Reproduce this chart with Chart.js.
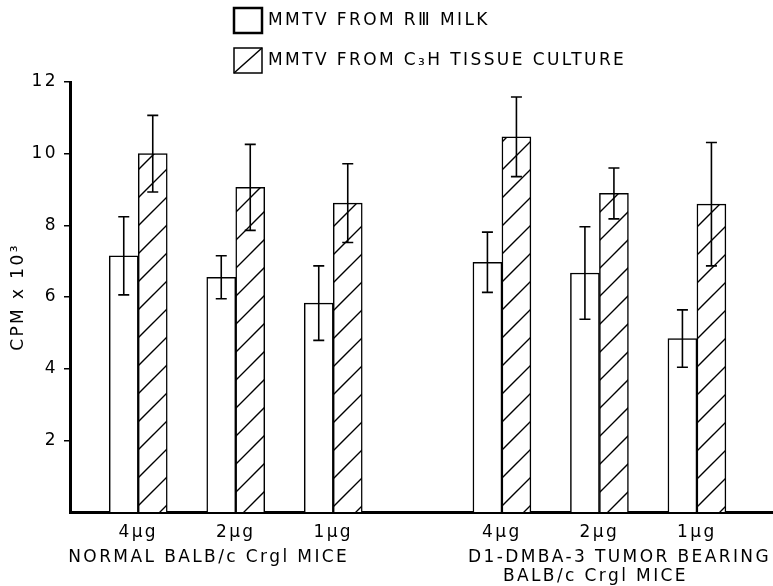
<!DOCTYPE html>
<html>
<head>
<meta charset="utf-8">
<script src="https://cdn.jsdelivr.net/npm/chart.js@4.4.0/dist/chart.umd.min.js"></script>
<style>
  body { margin: 0; background: #fff; }
  #chart { display: block; }
</style>
</head>
<body>
<canvas id="chart" width="773" height="586"></canvas>
<script>
// datos (CPM x 10^3)
const doses = ['4\u00b5g', '2\u00b5g', '1\u00b5g'];
const groups = ['NORMAL BALB/c Crgl MICE', 'D1-DMBA-3 TUMOR BEARING', 'BALB/c Crgl MICE'];
const seriesNames = ['MMTV FROM R\u2162 MILK', 'MMTV FROM C\u2083H TISSUE CULTURE'];
const milk = [7.15, 6.55, 5.83, 6.97, 6.67, 4.84];
const milkErr = [1.09, 0.60, 1.04, 0.84, 1.29, 0.80];
const culture = [10.0, 9.06, 8.62, 10.47, 8.89, 8.59];
const cultureErr = [1.07, 1.20, 1.10, 1.11, 0.71, 1.72];
const yTicks = [2, 4, 6, 8, 10, 12];

const FONT = 'DejaVu Sans';
const SPACING = '2.4px';
const groupStep = 3.73; // separacion entre grupos, en unidades del eje x

// posicion de cada dosis en el eje x
const positions = [];
for (let g = 0; g < 2; g++) {
    for (let i = 0; i < doses.length; i++) positions.push(g * groupStep + i);
}

// patron rayado para la serie de cultivo
function hatchPattern() {
    const s = 28;
    const c = document.createElement('canvas');
    c.width = s; c.height = s;
    const x = c.getContext('2d');
    x.fillStyle = '#fff';
    x.fillRect(0, 0, s, s);
    x.strokeStyle = '#000';
    x.lineWidth = 1.4;
    x.beginPath();
    x.moveTo(0, s); x.lineTo(s, 0);
    x.moveTo(-2, 2); x.lineTo(2, -2);
    x.moveTo(s - 2, s + 2); x.lineTo(s + 2, s - 2);
    x.stroke();
    return x.createPattern(c, 'repeat');
}

const errors = [milkErr, cultureErr];

// espaciado de letras, como el rotulado del original
const lettering = {
    id: 'lettering',
    afterInit(chart) { chart.ctx.letterSpacing = SPACING; },
    beforeDraw(chart) { chart.ctx.letterSpacing = SPACING; }
};

const errorBars = {
    id: 'errorBars',
    afterDatasetsDraw(chart) {
        const ctx = chart.ctx;
        const y = chart.scales.y;
        ctx.save();
        ctx.strokeStyle = '#000';
        ctx.lineWidth = 1.6;
        chart.data.datasets.forEach((ds, d) => {
            chart.getDatasetMeta(d).data.forEach((bar, i) => {
                const v = ds.data[i].y;
                const e = errors[d][i];
                const top = y.getPixelForValue(v + e);
                const bot = y.getPixelForValue(v - e);
                ctx.beginPath();
                ctx.moveTo(bar.x, top); ctx.lineTo(bar.x, bot);
                ctx.moveTo(bar.x - 5.5, top); ctx.lineTo(bar.x + 5.5, top);
                ctx.moveTo(bar.x - 5.5, bot); ctx.lineTo(bar.x + 5.5, bot);
                ctx.stroke();
            });
        });
        ctx.restore();
    }
};

const extras = {
    id: 'extras',
    afterDraw(chart) {
        const ctx = chart.ctx;
        const xs = chart.scales.x;
        ctx.save();
        ctx.fillStyle = '#000';
        ctx.strokeStyle = '#000';
        // leyenda
        ctx.font = '17px "' + FONT + '"';
        ctx.textBaseline = 'middle';
        ctx.textAlign = 'left';
        ctx.lineWidth = 2.5;
        ctx.strokeRect(234, 8, 28, 25);
        ctx.fillText(seriesNames[0], 268, 21);
        ctx.lineWidth = 1.5;
        ctx.strokeRect(234, 48, 28, 25);
        ctx.beginPath();
        ctx.moveTo(234, 73); ctx.lineTo(262, 48);
        ctx.stroke();
        ctx.fillText(seriesNames[1], 268, 61);
        // etiquetas de grupo
        ctx.fillText(groups[0], xs.getPixelForValue(positions[0]) - 70, 558);
        ctx.fillText(groups[1], xs.getPixelForValue(positions[3]) - 34, 558);
        ctx.textAlign = 'center';
        ctx.fillText(groups[2], xs.getPixelForValue(positions[4]) - 4, 577);
        ctx.restore();
    }
};

const ctx = document.getElementById('chart').getContext('2d');
const chart = new Chart(ctx, {
    type: 'bar',
    data: {
        datasets: [{
            label: seriesNames[0],
            data: milk.map((v, i) => ({ x: positions[i], y: v })),
            backgroundColor: '#fff',
            borderColor: '#000',
            borderWidth: 1.5
        }, {
            label: seriesNames[1],
            data: culture.map((v, i) => ({ x: positions[i], y: v })),
            backgroundColor: hatchPattern(),
            borderColor: '#000',
            borderWidth: 1.5
        }]
    },
    options: {
        responsive: false,
        animation: false,
        barThickness: 29,
        layout: { padding: { top: 82, right: 1, left: 0, bottom: 0 } },
        plugins: {
            legend: { display: false },
            tooltip: { enabled: false }
        },
        scales: {
            x: {
                type: 'linear',
                min: -0.7,
                max: 6.5,
                offset: false,
                afterBuildTicks: (axis) => { axis.ticks = positions.map(v => ({ value: v })); },
                afterFit: (scale) => { scale.height = 74; },
                grid: { display: false, drawTicks: false },
                border: { display: true, color: '#000', width: 3 },
                ticks: {
                    autoSkip: false,
                    maxRotation: 0,
                    padding: 10,
                    color: '#000',
                    font: { family: FONT, size: 17 },
                    callback: (value, index) => doses[index % doses.length]
                }
            },
            y: {
                min: 0,
                max: 12,
                afterBuildTicks: (axis) => { axis.ticks = yTicks.map(v => ({ value: v })); },
                afterFit: (scale) => { scale.width = 70; },
                grid: { drawOnChartArea: false, drawTicks: true, tickLength: 6, color: '#000', lineWidth: 1.5 },
                border: { display: true, color: '#000', width: 3 },
                ticks: {
                    padding: 6,
                    color: '#000',
                    font: { family: FONT, size: 17 }
                },
                title: {
                    display: true,
                    text: 'CPM x 10\u00b3',
                    color: '#000',
                    font: { family: FONT, size: 17 },
                    padding: { top: 8, bottom: 0 }
                }
            }
        }
    },
    plugins: [lettering, errorBars, extras]
});
</script>
</body>
</html>
